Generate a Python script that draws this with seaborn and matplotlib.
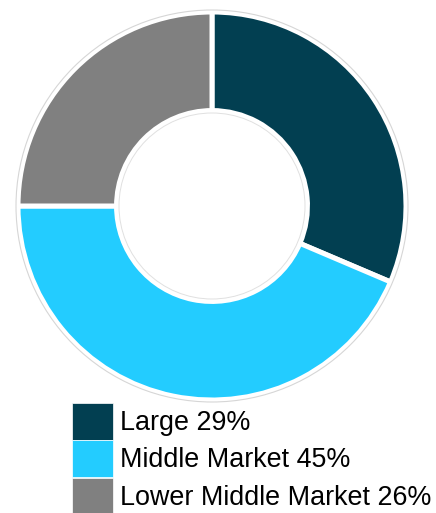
import matplotlib
matplotlib.use("Agg")
import matplotlib.pyplot as plt
import seaborn as sns
from matplotlib.patches import Circle

sns.set_theme(style="white")
plt.rcParams['font.family'] = ['Liberation Sans', 'DejaVu Sans']

categories = ["Large", "Middle Market", "Lower Middle Market"]
labels = ["Large 29%", "Middle Market 45%", "Lower Middle Market 26%"]
values = [31.4, 43.6, 25.0]
colors = ["#023F51", "#23CCFF", "#808080"]

W, H = 436, 513
cx, cy, half = 212, 206, 200
fig = plt.figure(figsize=(W/100, H/100), dpi=100)
ax = fig.add_axes([(cx-half)/W, 1-(cy+half)/H, 2*half/W, 2*half/H])
wedges, _ = ax.pie(values, colors=colors, startangle=90, counterclock=False,
                   radius=1.0, wedgeprops=dict(width=0.508, edgecolor="white", linewidth=3.6))
ax.add_patch(Circle((0, 0), 196/194, fill=False, edgecolor="#d6d6d6", linewidth=0.8))
ax.add_patch(Circle((0, 0), 93/194, fill=False, edgecolor="#e0e0e0", linewidth=0.7))
lim = half/194
ax.set_xlim(-lim, lim)
ax.set_ylim(-lim, lim)
ax.set_aspect("equal")
ax.axis("off")

fs = 19.4
fig.legend(wedges, labels, loc="upper left", bbox_to_anchor=(72/W, 1-403/H),
           frameon=False, borderpad=0, borderaxespad=0, fontsize=fs, labelcolor="black",
           handleheight=1.72, handlelength=1.52, handletextpad=0.25, labelspacing=0.02)
for h in fig.legends[0].legend_handles:
    h.set_edgecolor("white")
    h.set_linewidth(0.5)

fig.savefig("out.png", dpi=100)
